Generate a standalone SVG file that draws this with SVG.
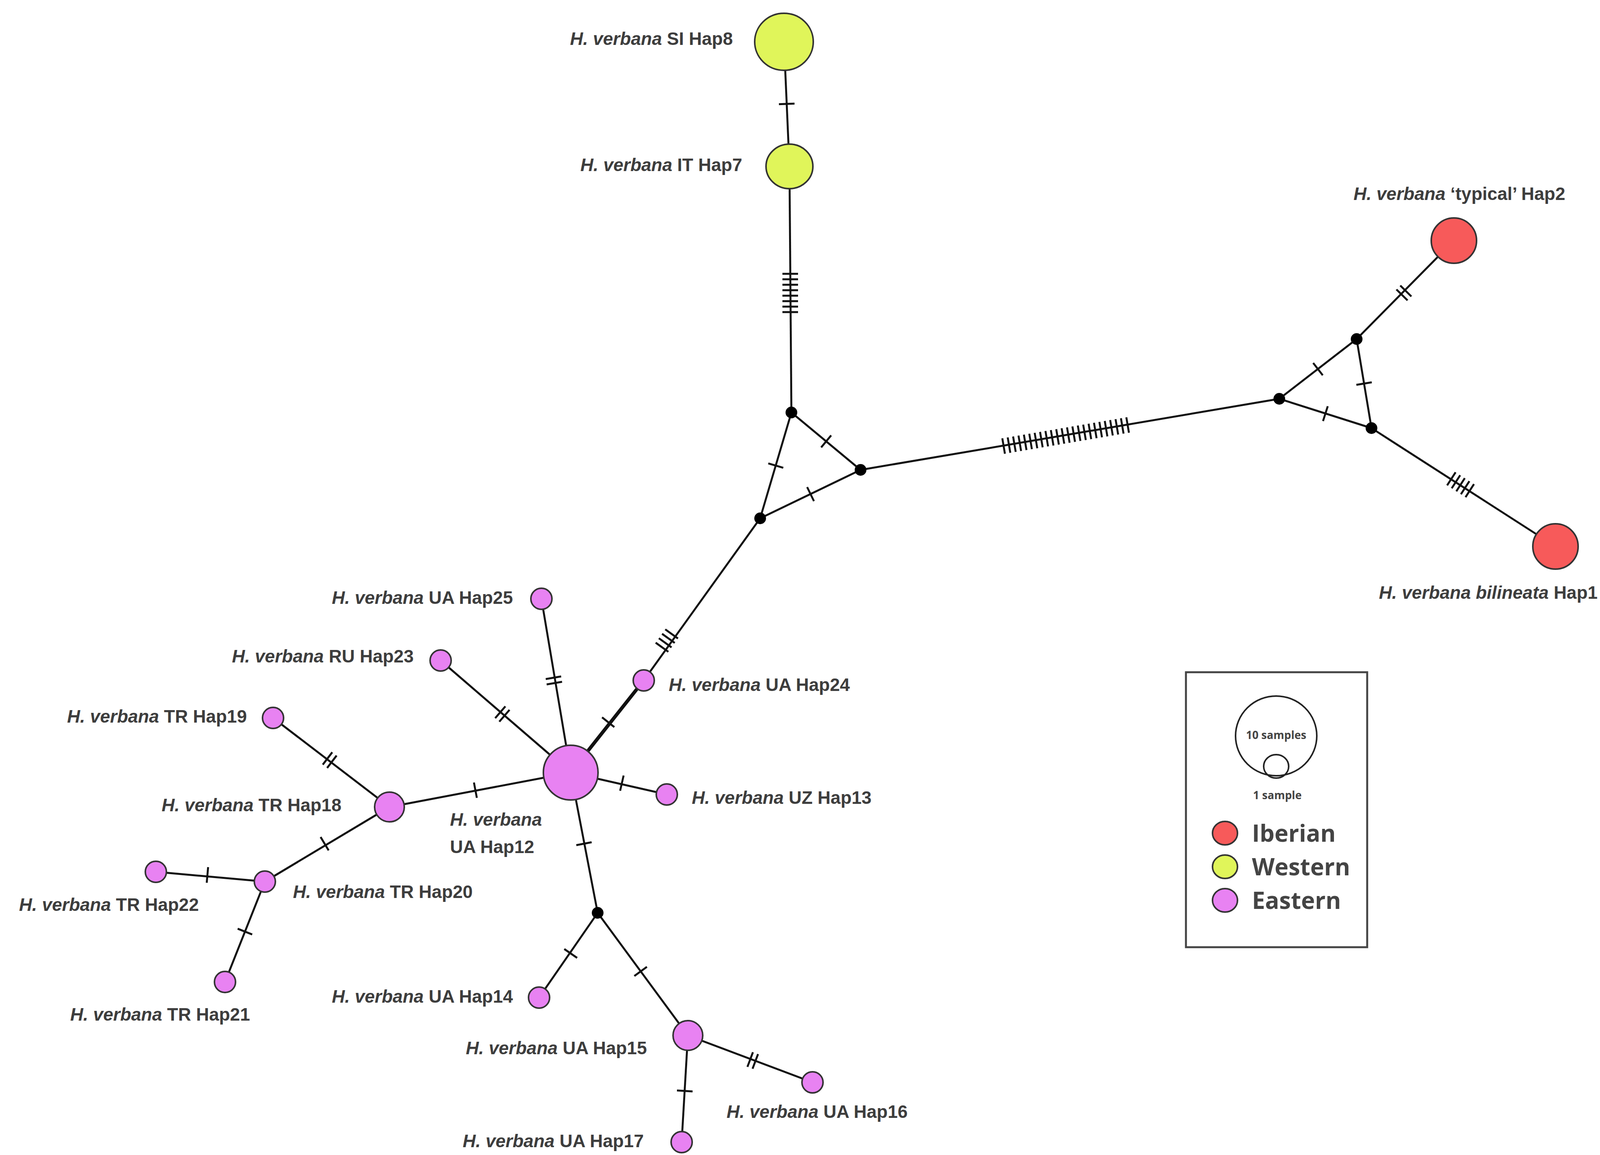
<svg xmlns="http://www.w3.org/2000/svg" xmlns:xlink="http://www.w3.org/1999/xlink" width="4152" height="2957" viewBox="0 0 4152 2957">
<style>
.e{stroke:#111;stroke-width:5;fill:none}
.tk{stroke:#111;stroke-width:5}
.w{fill:#e0f55a;stroke:#333;stroke-width:4}
.r{fill:#f75a5a;stroke:#333;stroke-width:4}
.v{fill:#e882f2;stroke:#333;stroke-width:4}
.j{fill:#000}
.lb{font-family:"Liberation Sans",Arial,sans-serif;font-size:46px;font-weight:bold;fill:#3d3d3d}
.lg{font-family:"Open Sans","Liberation Sans",sans-serif;font-weight:bold;fill:#444}
</style>
<defs>
<g id="t1"><line class="tk" x1="0" y1="-20" x2="0" y2="20"/></g>
<g id="t2"><line class="tk" x1="-7" y1="-20" x2="-7" y2="20"/><line class="tk" x1="7" y1="-20" x2="7" y2="20"/></g>
<g id="t4"><line class="tk" x1="-21" y1="-20" x2="-21" y2="20"/><line class="tk" x1="-7" y1="-20" x2="-7" y2="20"/><line class="tk" x1="7" y1="-20" x2="7" y2="20"/><line class="tk" x1="21" y1="-20" x2="21" y2="20"/></g>
<g id="t5"><use xlink:href="#t4" x="-7"/><line class="tk" x1="28" y1="-20" x2="28" y2="20"/></g>
<g id="t8"><use xlink:href="#t4" x="-28"/><use xlink:href="#t4" x="28"/></g>
<g id="t24"><use xlink:href="#t8" x="-112"/><use xlink:href="#t8" x="0"/><use xlink:href="#t8" x="112"/></g>
</defs>
<g id="connectors">
<line class="e" x1="2007" y1="107" x2="2021" y2="426"/>
<line class="e" x1="2021" y1="426" x2="2026" y2="1056"/>
<line class="e" x1="2026" y1="1056" x2="2203" y2="1203"/>
<line class="e" x1="2026" y1="1056" x2="1946" y2="1327"/>
<line class="e" x1="1946" y1="1327" x2="2203" y2="1203"/>
<line class="e" x1="2203" y1="1203" x2="3275" y2="1021"/>
<line class="e" x1="3275" y1="1021" x2="3473" y2="868"/>
<line class="e" x1="3473" y1="868" x2="3511" y2="1096"/>
<line class="e" x1="3275" y1="1021" x2="3511" y2="1096"/>
<line class="e" x1="3473" y1="868" x2="3722" y2="616"/>
<line class="e" x1="3511" y1="1096" x2="3982" y2="1399"/>
<line class="e" x1="1946" y1="1327" x2="1648" y2="1742"/>
<line class="e" x1="1648" y1="1742" x2="1461" y2="1978" style="stroke-width:9"/>
<line class="e" x1="1461" y1="1978" x2="1386" y2="1533"/>
<line class="e" x1="1461" y1="1978" x2="1128" y2="1691"/>
<line class="e" x1="1461" y1="1978" x2="1707" y2="2034"/>
<line class="e" x1="1461" y1="1978" x2="997" y2="2066"/>
<line class="e" x1="997" y1="2066" x2="699" y2="1838"/>
<line class="e" x1="997" y1="2066" x2="678" y2="2257"/>
<line class="e" x1="678" y1="2257" x2="399" y2="2232"/>
<line class="e" x1="678" y1="2257" x2="576" y2="2514"/>
<line class="e" x1="1461" y1="1978" x2="1530" y2="2337"/>
<line class="e" x1="1530" y1="2337" x2="1380" y2="2554"/>
<line class="e" x1="1530" y1="2337" x2="1761" y2="2651"/>
<line class="e" x1="1761" y1="2651" x2="2080" y2="2771"/>
<line class="e" x1="1761" y1="2651" x2="1745" y2="2924"/>
<use xlink:href="#t1" transform="translate(2014,266) rotate(87.5)"/>
<use xlink:href="#t8" transform="translate(2023,750) rotate(90)"/>
<use xlink:href="#t1" transform="translate(2115,1130) rotate(39.7)"/>
<use xlink:href="#t1" transform="translate(1986,1192) rotate(106.4)"/>
<use xlink:href="#t1" transform="translate(2075,1265) rotate(-25.8)"/>
<use xlink:href="#t24" transform="translate(2728,1115) rotate(-9.6)"/>
<use xlink:href="#t1" transform="translate(3374,945) rotate(-37.7)"/>
<use xlink:href="#t1" transform="translate(3492,982) rotate(80.5)"/>
<use xlink:href="#t1" transform="translate(3393,1059) rotate(17.6)"/>
<use xlink:href="#t2" transform="translate(3594,750) rotate(-45.3)"/>
<use xlink:href="#t5" transform="translate(3739,1241) rotate(32.8)"/>
<use xlink:href="#t4" transform="translate(1707,1640) rotate(125.7)"/>
<use xlink:href="#t1" transform="translate(1557,1849) rotate(128.4)"/>
<use xlink:href="#t2" transform="translate(1418,1742) rotate(80.4)"/>
<use xlink:href="#t2" transform="translate(1286,1828) rotate(40.8)"/>
<use xlink:href="#t1" transform="translate(1592,2005) rotate(12.8)"/>
<use xlink:href="#t1" transform="translate(1217,2023) rotate(-10.7)"/>
<use xlink:href="#t2" transform="translate(844,1946) rotate(37.4)"/>
<use xlink:href="#t1" transform="translate(831,2160) rotate(-31)"/>
<use xlink:href="#t1" transform="translate(531,2240) rotate(5.1)"/>
<use xlink:href="#t1" transform="translate(627,2385) rotate(111.6)"/>
<use xlink:href="#t1" transform="translate(1495,2160) rotate(79.1)"/>
<use xlink:href="#t1" transform="translate(1461,2441) rotate(124.6)"/>
<use xlink:href="#t1" transform="translate(1640,2487) rotate(53.7)"/>
<use xlink:href="#t2" transform="translate(1927,2715) rotate(20.6)"/>
<use xlink:href="#t1" transform="translate(1753,2793) rotate(93.4)"/>
</g>
<g id="mv1"><circle class="j" cx="2026" cy="1056" r="15"/></g>
<g id="mv2"><circle class="j" cx="2203" cy="1203" r="15"/></g>
<g id="mv3"><circle class="j" cx="1946" cy="1327" r="15"/></g>
<g id="mv4"><circle class="j" cx="3275" cy="1021" r="15"/></g>
<g id="mv5"><circle class="j" cx="3473" cy="868" r="15"/></g>
<g id="mv6"><circle class="j" cx="3511" cy="1096" r="15"/></g>
<g id="mv7"><circle class="j" cx="1530" cy="2337" r="15"/></g>
<g id="hap8"><ellipse class="w" cx="2007" cy="107" rx="75" ry="73"/><text class="lb" x="1876" y="115" text-anchor="end"><tspan font-style="italic">H. verbana</tspan> SI Hap8</text></g>
<g id="hap7"><ellipse class="w" cx="2021" cy="426" rx="60" ry="57"/><text class="lb" x="1900" y="438" text-anchor="end"><tspan font-style="italic">H. verbana</tspan> IT Hap7</text></g>
<g id="hap2"><ellipse class="r" cx="3722" cy="616" rx="58" ry="58"/><text class="lb" x="3465" y="512"><tspan font-style="italic">H. verbana</tspan> ‘typical’  Hap2</text></g>
<g id="hap1"><ellipse class="r" cx="3982" cy="1399" rx="58" ry="58"/><text class="lb" x="3530" y="1533"><tspan font-style="italic">H. verbana bilineata</tspan> Hap1</text></g>
<g id="hap12"><circle class="v" cx="1461" cy="1978" r="70"/><text class="lb" x="1152" y="2114" font-style="italic">H. verbana</text><text class="lb" x="1152" y="2184">UA Hap12</text></g>
<g id="hap24"><circle class="v" cx="1648" cy="1742" r="27"/><text class="lb" x="1712" y="1769"><tspan font-style="italic">H. verbana</tspan> UA Hap24</text></g>
<g id="hap25"><circle class="v" cx="1386" cy="1533" r="27"/><text class="lb" x="1313" y="1546" text-anchor="end"><tspan font-style="italic">H. verbana</tspan> UA Hap25</text></g>
<g id="hap23"><circle class="v" cx="1128" cy="1691" r="27"/><text class="lb" x="1059" y="1696" text-anchor="end"><tspan font-style="italic">H. verbana</tspan> RU Hap23</text></g>
<g id="hap19"><circle class="v" cx="699" cy="1838" r="27"/><text class="lb" x="632" y="1850" text-anchor="end"><tspan font-style="italic">H. verbana</tspan> TR Hap19</text></g>
<g id="hap18"><circle class="v" cx="997" cy="2066" r="38"/><text class="lb" x="874" y="2077" text-anchor="end"><tspan font-style="italic">H. verbana</tspan> TR Hap18</text></g>
<g id="hap13"><circle class="v" cx="1707" cy="2034" r="27"/><text class="lb" x="1771" y="2058"><tspan font-style="italic">H. verbana</tspan> UZ Hap13</text></g>
<g id="hap20"><circle class="v" cx="678" cy="2257" r="27"/><text class="lb" x="750" y="2299"><tspan font-style="italic">H. verbana</tspan> TR Hap20</text></g>
<g id="hap22"><circle class="v" cx="399" cy="2232" r="27"/><text class="lb" x="509" y="2332" text-anchor="end"><tspan font-style="italic">H. verbana</tspan> TR Hap22</text></g>
<g id="hap21"><circle class="v" cx="576" cy="2514" r="27"/><text class="lb" x="640" y="2613" text-anchor="end"><tspan font-style="italic">H. verbana</tspan> TR Hap21</text></g>
<g id="hap14"><circle class="v" cx="1380" cy="2554" r="27"/><text class="lb" x="1313" y="2567" text-anchor="end"><tspan font-style="italic">H. verbana</tspan> UA Hap14</text></g>
<g id="hap15"><circle class="v" cx="1761" cy="2651" r="38"/><text class="lb" x="1656" y="2699" text-anchor="end"><tspan font-style="italic">H. verbana</tspan> UA Hap15</text></g>
<g id="hap16"><circle class="v" cx="2080" cy="2771" r="27"/><text class="lb" x="1860" y="2862"><tspan font-style="italic">H. verbana</tspan> UA Hap16</text></g>
<g id="hap17"><circle class="v" cx="1745" cy="2924" r="27"/><text class="lb" x="1648" y="2937" text-anchor="end"><tspan font-style="italic">H. verbana</tspan> UA Hap17</text></g>
<g id="legend">
<rect x="3036" y="1721" width="464" height="704" fill="#fff" stroke="#444" stroke-width="5"/>
<ellipse cx="3267" cy="1884" rx="104" ry="102" fill="none" stroke="#222" stroke-width="4"/>
<ellipse cx="3267" cy="1962" rx="32" ry="30" fill="none" stroke="#222" stroke-width="4"/>
<text class="lg" x="3267" y="1892" font-size="28" text-anchor="middle">10 samples</text>
<text class="lg" x="3270" y="2046" font-size="28" text-anchor="middle">1 sample</text>
<ellipse class="r" cx="3136" cy="2133" rx="32" ry="30"/>
<ellipse class="w" cx="3136" cy="2219" rx="32" ry="30"/>
<ellipse class="v" cx="3136" cy="2305" rx="32" ry="30"/>
<text class="lg" x="3205" y="2155" font-size="60">Iberian</text>
<text class="lg" x="3205" y="2241" font-size="60">Western</text>
<text class="lg" x="3205" y="2327" font-size="60">Eastern</text>
</g>
</svg>
